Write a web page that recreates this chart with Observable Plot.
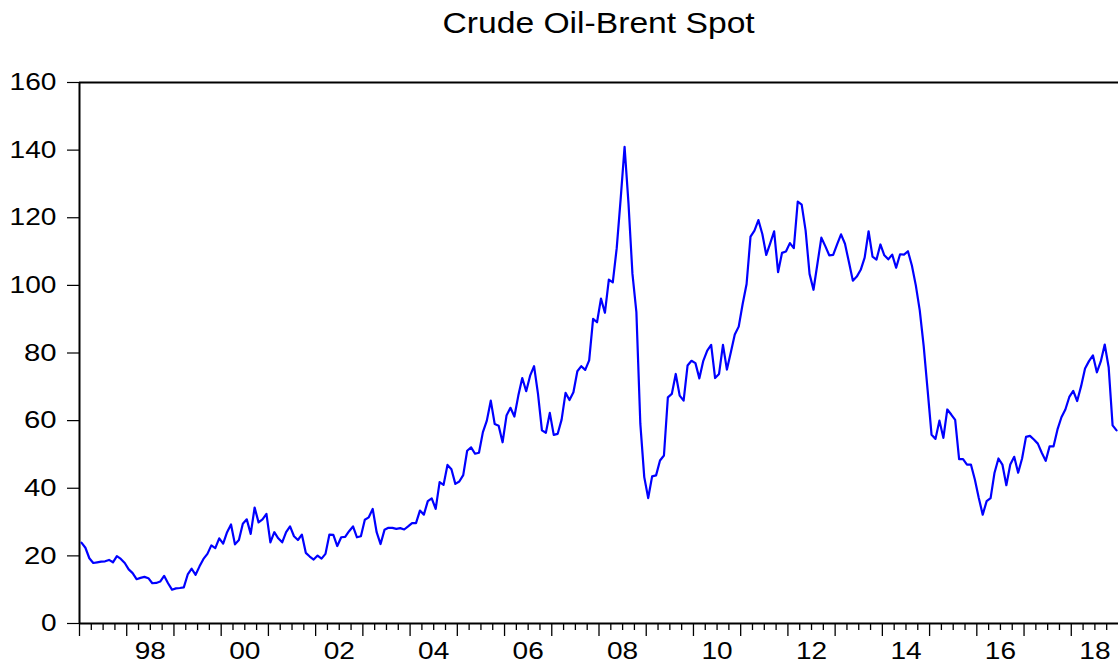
<!DOCTYPE html>
<html>
<head>
<meta charset="utf-8">
<script src="https://cdn.jsdelivr.net/npm/d3@7"></script>
<script src="https://cdn.jsdelivr.net/npm/@observablehq/plot@0.6"></script>
<style>
  body { margin: 0; background: #fff; }
  #title {
    height: 52px; box-sizing: border-box; padding-top: 9px; padding-left: 79px;
    text-align: center; font: 29px "Liberation Sans", Arial, sans-serif; line-height: 29px;
    color: #000; white-space: nowrap;
  }
  #title span { display: inline-block; transform: scaleX(1.16); }
</style>
</head>
<body>
<div id="title"><span>Crude Oil-Brent Spot</span></div>
<div id="chart"></div>
<script>
// Monthly Brent spot price (USD/bbl), January 1997 – December 2018
const startYear = 1997;
const brent = [
  // 1997
  23.9, 22.4, 19.3, 17.9, 18.1, 18.3, 18.4, 18.8, 18.1, 19.9, 19.1, 17.9,
  // 1998
  16.0, 14.9, 13.1, 13.5, 13.8, 13.4, 11.9, 12.0, 12.4, 14.1, 11.9, 10.0,
  // 1999
  10.4, 10.5, 10.7, 14.5, 16.2, 14.4, 16.9, 19.1, 20.6, 23.1, 22.3, 25.2,
  // 2000
  23.6, 27.0, 29.3, 23.4, 24.7, 29.5, 30.8, 26.5, 34.3, 29.9, 30.8, 32.4,
  // 2001
  24.0, 27.0, 25.2, 24.0, 27.0, 28.7, 25.8, 24.7, 26.3, 20.9, 19.8, 18.9,
  // 2002
  20.1, 19.2, 20.6, 26.3, 26.2, 22.9, 25.5, 25.6, 27.3, 28.7, 25.5, 25.8,
  // 2003
  30.7, 31.4, 33.9, 27.0, 23.5, 27.7, 28.3, 28.3, 28.0, 28.2, 27.8, 28.7,
  // 2004
  29.7, 29.7, 33.4, 32.2, 36.2, 37.0, 33.9, 41.8, 41.0, 46.9, 45.6, 41.3,
  // 2005
  42.0, 43.9, 51.1, 52.1, 50.2, 50.5, 56.6, 60.0, 65.9, 59.0, 58.5, 53.6,
  // 2006
  61.5, 63.8, 61.2, 67.4, 72.6, 68.7, 73.3, 76.1, 67.9, 57.1, 56.4, 62.3,
  // 2007
  55.8, 56.1, 60.3, 68.2, 66.1, 68.4, 74.6, 76.1, 75.0, 77.8, 90.1, 89.1,
  // 2008
  96.1, 91.9, 101.7, 100.9, 111.0, 125.5, 141.0, 124.1, 103.4, 92.1, 59.1, 43.3,
  // 2009
  37.1, 43.5, 43.8, 48.2, 49.7, 66.9, 67.9, 73.8, 67.4, 65.9, 76.3, 77.7,
  // 2010
  77.0, 72.5, 77.7, 80.7, 82.4, 72.6, 73.8, 82.4, 75.1, 80.2, 85.5, 87.8,
  // 2011
  94.5, 100.4, 114.4, 116.2, 119.3, 115.2, 109.0, 112.4, 116.0, 103.9, 109.6, 110.0,
  // 2012
  112.5, 111.0, 124.8, 123.9, 116.2, 103.4, 98.7, 106.4, 114.1, 111.6, 108.9, 109.0,
  // 2013
  112.1, 115.1, 112.3, 106.9, 101.4, 102.6, 104.6, 108.2, 116.0, 108.5, 107.6, 112.1,
  // 2014
  108.9, 107.7, 109.1, 105.2, 109.2, 109.1, 110.1, 105.9, 100.0, 92.6, 82.0, 69.0,
  // 2015
  55.8, 54.6, 60.0, 54.9, 63.3, 61.8, 60.2, 48.6, 48.6, 47.0, 47.0, 42.6,
  // 2016
  37.1, 32.2, 36.2, 37.1, 44.6, 48.8, 47.0, 40.9, 47.0, 49.3, 44.6, 48.8,
  // 2017
  55.2, 55.5, 54.4, 53.2, 50.5, 48.1, 52.4, 52.4, 57.4, 61.0, 63.3, 67.0,
  // 2018
  68.8, 65.8, 70.2, 75.4, 77.6, 79.3, 74.3, 77.5, 82.5, 75.8, 58.6, 57.1
];
const yTicks = [0, 20, 40, 60, 80, 100, 120, 140, 160];
const labelYears = [1998, 2000, 2002, 2004, 2006, 2008, 2010, 2012, 2014, 2016, 2018];
const endYear = 2019;

// observations plotted at mid-month
const data = brent.map((v, i) => ({t: startYear + (i + 0.5) / 12, v}));
const yearTicks = d3.range(startYear, endYear);
const quarterTicks = d3.range(startYear * 4, endYear * 4).map(q => q / 4).filter(q => q % 1 !== 0);
const labelPos = labelYears.map(y => y + 0.5);

const chart = Plot.plot({
  width: 1118,
  height: 612,
  marginTop: 30,
  marginBottom: 41,
  marginLeft: 79,
  marginRight: 0,
  style: {fontFamily: "'Liberation Sans', Arial, sans-serif", background: "#fff", color: "#000", overflow: "visible"},
  x: {domain: [startYear, endYear]},
  y: {domain: [0, 160]},
  marks: [
    Plot.axisY({ticks: yTicks, tickSize: 12, tickPadding: 11, fontSize: 24, tickFormat: d => String(d), label: null, strokeWidth: 1.2}),
    Plot.axisX({ticks: quarterTicks, tickSize: 7, tickFormat: () => "", label: null, strokeWidth: 1.3}),
    Plot.axisX({ticks: yearTicks, tickSize: 13, tickFormat: () => "", label: null, strokeWidth: 1.3}),
    Plot.axisX({ticks: labelPos, tickSize: 0, tickPadding: 19, fontSize: 23, label: null,
      tickFormat: d => String(Math.floor(d) % 100).padStart(2, "0")}),
    Plot.ruleY([0], {stroke: "#000", strokeWidth: 2}),
    Plot.ruleY([160], {stroke: "#000", strokeWidth: 2}),
    Plot.ruleX([startYear], {stroke: "#000", strokeWidth: 2}),
    Plot.line(data, {x: "t", y: "v", stroke: "#0000ff", strokeWidth: 2.2})
  ]
});
document.getElementById("chart").appendChild(chart);

// horizontally stretch tick labels like the reference rendering, without touching their positions
chart.querySelectorAll("text").forEach(t => {
  if (!t.textContent) return;
  const w = t.getComputedTextLength();
  if (w > 0) {
    const k = /^\d\d$/.test(t.textContent) ? 1.22 : 1.17;
    t.setAttribute("textLength", (w * k).toFixed(1));
    t.setAttribute("lengthAdjust", "spacingAndGlyphs");
  }
});
</script>
</body>
</html>
